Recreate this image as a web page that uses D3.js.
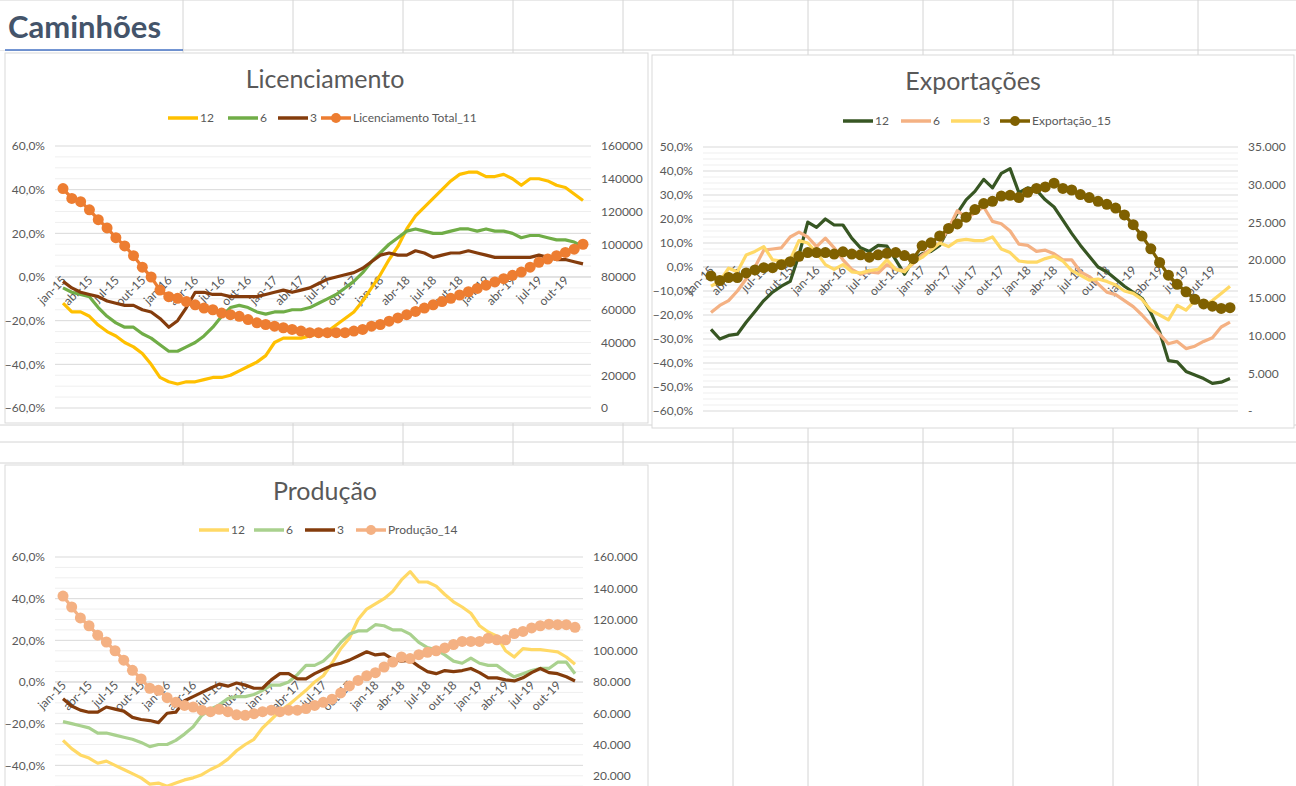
<!DOCTYPE html>
<html><head><meta charset="utf-8">
<script src="https://cdnjs.cloudflare.com/ajax/libs/d3/7.8.5/d3.min.js"></script>
<style>body{margin:0;background:#fff;overflow:hidden}svg{display:block;font-family:Lato,"Open Sans",sans-serif}</style>
</head><body><svg id="s" width="1296" height="786"></svg>
<script>
// months jan-15 .. dez-19
var mesesNomes = ["jan","fev","mar","abr","mai","jun","jul","ago","set","out","nov","dez"];
var anos = ["15","16","17","18","19"];
var meses = [];
anos.forEach(function(a){ mesesNomes.forEach(function(m){ meses.push(m + "-" + a); }); });

// Licenciamento
var lic12 = [-12,-16,-16,-18,-22,-25,-27,-30,-32,-35,-40,-46, -48,-49,-48,-48,-47,-46,-46,-45,-43,-41,-39,-36, -30,-28,-28,-28,-27,-26,-25,-22,-19,-16,-11,-5, 1,8,14,22,28,32,36,40,44,47,48,48, 46,46,47,45,42,45,45,44,42,41,38,35];
var lic6 = [-5,-7,-8,-9,-14,-18,-21,-23,-23,-26,-28,-31, -34,-34,-32,-30,-27,-23,-18,-14,-13,-14,-16,-17, -16,-16,-15,-15,-14,-12,-10,-8,-5,-2,2,7, 11,15,18,21,22,21,20,20,21,22,22,21, 22,21,21,20,18,19,19,18,17,17,16,14];
var lic3 = [-2,-5,-7,-8,-9,-11,-12,-13,-13,-15,-16,-19, -23,-20,-14,-7,-7,-8,-8,-9,-9,-9,-9,-8, -7,-6,-7,-6,-5,-3,-1,0,1,2,4,7, 10,11,10,10,12,11,9,10,11,11,12,11, 10,9,9,9,9,9,10,9,8,8,7,6];
var licTotal = [134,128,126,121,115,110,104,99,93,86,80,72, 68,67,65,63,61,60,58,57,56,54,52,51, 50,49,48,47,46,46,46,46,46,47,48,50, 51,53,55,57,59,61,63,65,67,69,71,73, 75,77,79,81,83,86,89,91,93,95,97,100];

// Exportações
var exp12 = [-26,-30,-28.5,-28,-23,-18.5,-14,-10.5,-8,-6,5,18.7, 16.5,20,17.5,17.5,12,8,6.5,9,8.7,3,-3,3, 5.5,6.5,9,16,22.4,28,31.5,36.5,33,39,41,31, 33,32,28,25,19.5,14,9,4.5,0,-2,-5,-8, -10.5,-13,-19,-27,-39,-39.5,-43.5,-45,-46.5,-48.5,-48,-46.5];
var exp6 = [-19,-16,-14,-10,-5,0,7,7.5,8,12.5,14.5,12.5, 8.5,12,8,3,-1,-3,-2,-2.5,1,-1,-1.5,1.5, 5,7.5,10,16,23.5,20.5,22.5,25,19,18,15,9.5, 9,6.5,7,5.5,3,3,-2,-4,-7,-10.5,-11.5,-14, -16.5,-20,-24,-28,-32,-31,-34,-33,-31,-29.5,-25,-23];
var exp3 = [-8,-6,-0.5,-2,5,6.5,8.5,3,2.5,3,11,10, 6,1,-1,1,-2,-2.5,-1.5,-1,3,-1,-2,2, 4,7,10,8.5,11,11.5,11,11,12.5,7.5,6,2.5, 2,2,3.5,4.5,2.5,-1.5,-3.5,-5.5,-5,-6,-7.5,-10, -11,-13.5,-18,-20,-22,-16,-18,-14,-16,-14,-11,-8];
var expTotal = [17.9,17.3,17.7,17.7,18.3,18.7,19.0,19.0,19.4,19.8,20.5,21.0, 21.0,21.0,20.8,21.1,20.8,20.7,20.4,20.7,20.9,21.0,20.6,20.2, 21.9,22.3,23.2,24.2,24.8,25.7,26.7,27.5,27.8,28.5,28.6,28.3, 29.0,29.5,29.7,30.2,29.5,29.3,28.7,28.3,27.8,27.4,26.9,26.0, 24.7,23.2,21.5,19.7,18.0,16.8,15.8,14.8,14.2,13.9,13.6,13.7];

// Produção
var prod12 = [-28,-32,-35,-36.5,-39,-38,-40,-42,-44,-46,-49,-48.5, -50,-48.5,-47,-46,-44.5,-42,-40,-37,-33,-30,-27.5,-22, -18,-14,-11,-7.5,-4,0,3,9,16,21,30,35, 37.5,40,43.5,49,53,48,48,46,42,38.5,36,33, 27,24,22,15,12,16,15.5,15.5,15,14.5,12,8.5];
var prod6 = [-19,-20,-21,-22,-24.5,-24.5,-25.5,-26.5,-27.5,-29,-31,-30, -30,-28,-25,-21.5,-16,-13,-11,-8,-7,-7,-6,-4, -1.5,-1.5,0,3.5,8,8,10,14,19,23,24.5,24.5, 27.5,27,25,25,23,19,16.5,15.5,13,10,9,11.5, 9,8,8,5,2.5,4,5.5,6.5,6.5,9.5,9.5,4];
var prod3 = [-8,-11.5,-13.5,-14.5,-14.5,-12,-13,-14,-17,-18,-18.5,-19.5, -15,-14.5,-9,-7,-5,-3,-1,-2,-0.5,-1.5,-3,-3, 1,4,4,1.5,1.5,4,6,8,9,10.5,12.5,14.5, 13,13.5,11,10,10.5,7.5,5,4,5.5,5,5.5,6.5, 4.5,2,2,1,0.5,2,4.5,6.5,4.5,4,2.5,0.5];
var prodTotal = [135,128,121,116,110,105.6,100,94,87.5,82,76,74.7, 70,67,65,64,62,61,62.5,61,59,58.7,59.7,61, 62,61,62,62,63,65,67,69,73,77.5,81,84, 86,89.6,92.8,96,95,97.5,99,100,101.8,104,106,106, 106,108,107,107,111,112.4,114.6,116,117,116.7,116.7,115];

var svg = d3.select("#s");
var gridC = "#d4d4d4", txtC = "#595959";

// spreadsheet cell grid
[183,293,403,513,623,733,808,923,1013,1113,1198].forEach(function(x){
  svg.append("line").attr("x1",x).attr("x2",x).attr("y1",0).attr("y2",786).attr("stroke",gridC);
});
[0,50,425,442,463].forEach(function(y){
  svg.append("line").attr("x1",0).attr("x2",1296).attr("y1",y).attr("y2",y).attr("stroke",gridC);
});
svg.append("rect").attr("x",0).attr("y",1).attr("width",182).attr("height",49).attr("fill","#fff");
svg.append("text").attr("x",8).attr("y",38).attr("font-size",31).attr("font-weight","bold")
  .attr("fill","#44546A").text("Caminhões");
svg.append("line").attr("x1",5).attr("x2",183).attr("y1",50).attr("y2",50).attr("stroke","#4472C4").attr("stroke-width",1.5);

function drawChart(c) {
  var g = svg.append("g");
  g.append("rect").attr("x",c.box[0]).attr("y",c.box[1]).attr("width",c.box[2]).attr("height",c.box[3])
    .attr("fill","#fff").attr("stroke","#d9d9d9");
  g.append("text").attr("x",c.titleX).attr("y",c.titleY).attr("text-anchor","middle")
    .attr("font-size",25).attr("fill",txtC).text(c.title);

  var x = d3.scaleLinear().domain([0, meses.length-1]).range([c.x0, c.x1]);
  var yL = d3.scaleLinear().domain(c.leftDom).range([c.yb, c.yt]);
  var yR = d3.scaleLinear().domain(c.rightDom).range([c.yb, c.yt]);

  // minor + major gridlines
  d3.range(c.leftDom[0], c.leftDom[1] + 0.01, c.minor).forEach(function(v){
    g.append("line").attr("x1",c.x0-8).attr("x2",c.x1+8).attr("y1",yL(v)).attr("y2",yL(v))
      .attr("stroke", Math.abs(v % c.major) < 0.01 ? "#d9d9d9" : "#efefef");
  });
  // left axis
  g.append("g").attr("transform","translate("+(c.x0-8)+",0)")
    .call(d3.axisLeft(yL).tickValues(c.leftTicks).tickSize(0).tickPadding(10)
      .tickFormat(function(d){ return d3.format(".1f")(d).replace(".",",") + "%"; }))
    .call(function(a){ a.select(".domain").remove(); a.selectAll("text").attr("font-size",12).attr("fill",txtC).attr("font-family","Lato,sans-serif"); });
  // right axis
  g.append("g").attr("transform","translate("+(c.x1+8)+",0)")
    .call(d3.axisRight(yR).tickValues(c.rightTicks).tickSize(0).tickPadding(10).tickFormat(c.rightFmt))
    .call(function(a){ a.select(".domain").remove(); a.selectAll("text").attr("font-size",12).attr("fill",txtC).attr("font-family","Lato,sans-serif"); });
  // zero axis line
  g.append("line").attr("x1",c.x0-8).attr("x2",c.x1+8).attr("y1",yL(0)).attr("y2",yL(0)).attr("stroke","#d9d9d9");
  // x labels
  meses.forEach(function(m, i){
    if (i % 3) return;
    g.append("text").attr("transform","translate("+(x(i)+4)+","+(yL(0)+4)+") rotate(-45)")
      .attr("text-anchor","end").attr("font-size",12).attr("fill",txtC).text(m);
  });

  var line = d3.line().x(function(d,i){ return x(i); });
  c.series.forEach(function(s){
    g.append("path").datum(s.data).attr("fill","none").attr("stroke",s.color).attr("stroke-width",3.2)
      .attr("stroke-linejoin","round").attr("d", line.y(function(d){ return yL(d); }));
  });
  var t = c.total;
  g.append("path").datum(t.data).attr("fill","none").attr("stroke",t.color).attr("stroke-width",3.2)
    .attr("d", line.y(function(d){ return yR(d); }));
  g.selectAll(null).data(t.data).enter().append("circle")
    .attr("cx",function(d,i){ return x(i); }).attr("cy",function(d){ return yR(d); })
    .attr("r",5.5).attr("fill",t.color);

  // legend
  var items = c.series.concat([t]);
  items.forEach(function(s, k){
    var lx = c.legX[k], ly = c.legY;
    g.append("line").attr("x1",lx).attr("x2",lx+30).attr("y1",ly).attr("y2",ly).attr("stroke",s.color).attr("stroke-width",3.5);
    if (s === t) g.append("circle").attr("cx",lx+15).attr("cy",ly).attr("r",5).attr("fill",s.color);
    g.append("text").attr("x",lx+32).attr("y",ly+4).attr("font-size",12).attr("fill",txtC).text(s.name);
  });
}

drawChart({
  box:[5,53,643,370], title:"Licenciamento", titleX:325, titleY:88,
  x0:63, x1:583, yt:146, yb:408, leftDom:[-60,60], rightDom:[0,160],
  minor:5, major:20, leftTicks:[-60,-40,-20,0,20,40,60], rightTicks:[0,20,40,60,80,100,120,140,160],
  rightFmt:function(d){ return d3.format("d")(d*1000); },
  series:[{name:"12",color:"#FFC000",data:lic12},{name:"6",color:"#70AD47",data:lic6},{name:"3",color:"#843C0C",data:lic3}],
  total:{name:"Licenciamento Total_11",color:"#ED7D31",data:licTotal},
  legX:[168,228,278,321], legY:118
});
drawChart({
  box:[652,55,642,373], title:"Exportações", titleX:973, titleY:90,
  x0:711, x1:1230, yt:147, yb:411, leftDom:[-60,50], rightDom:[0,35],
  minor:2.5, major:10, leftTicks:[-60,-50,-40,-30,-20,-10,0,10,20,30,40,50], rightTicks:[0,5,10,15,20,25,30,35],
  rightFmt:function(d){ return d === 0 ? "-" : d3.format(".3f")(d); },
  series:[{name:"12",color:"#375623",data:exp12},{name:"6",color:"#F4B183",data:exp6},{name:"3",color:"#FFD966",data:exp3}],
  total:{name:"Exportação_15",color:"#7F6000",data:expTotal},
  legX:[843,901,951,1000], legY:121
});
drawChart({
  box:[5,465,643,340], title:"Produção", titleX:325, titleY:500,
  x0:63, x1:575, yt:557, yb:807, leftDom:[-60,60], rightDom:[0,160],
  minor:5, major:20, leftTicks:[-40,-20,0,20,40,60], rightTicks:[20,40,60,80,100,120,140,160],
  rightFmt:function(d){ return d3.format(".3f")(d); },
  series:[{name:"12",color:"#FFD966",data:prod12},{name:"6",color:"#A9D18E",data:prod6},{name:"3",color:"#843C0C",data:prod3}],
  total:{name:"Produção_14",color:"#F4B183",data:prodTotal},
  legX:[199,254,305,356], legY:530
});
</script></body></html>
